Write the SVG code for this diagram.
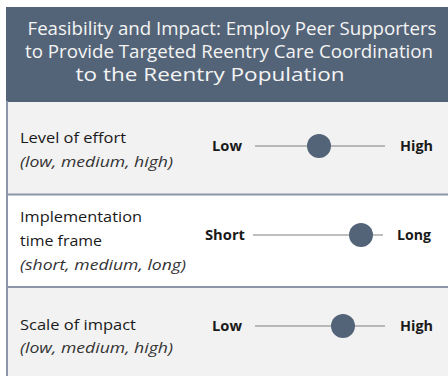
<svg xmlns="http://www.w3.org/2000/svg" width="448" height="376" viewBox="0 0 448 376">
<style>
.title{font-family:"Open Sans",Lato,sans-serif;font-size:18.5px;fill:#f4f4f4;text-anchor:middle}
.lab{font-family:"Open Sans",Lato,sans-serif;font-size:14.5px;fill:#1a1a1a}
.sub{font-family:"Open Sans",Lato,sans-serif;font-size:14.5px;font-style:italic;fill:#333}
.end{font-family:"Open Sans",Lato,sans-serif;font-size:13.5px;font-weight:bold;fill:#1a1a1a}
.track{stroke:#7f7f7f;stroke-width:1}
.knob{fill:#546478}
.div{stroke:#8c96a8;stroke-width:2}
</style>
<rect x="0" y="0" width="448" height="376" fill="#ffffff"/>
<g id="header">
<rect x="6" y="7" width="442" height="95" fill="#546478"/>
<text class="title" x="232" y="35" textLength="409" lengthAdjust="spacingAndGlyphs">Feasibility and Impact: Employ Peer Supporters</text>
<text class="title" x="229" y="58" textLength="408" lengthAdjust="spacingAndGlyphs">to Provide Targeted Reentry Care Coordination</text>
<text class="title" x="210" y="81" textLength="269" lengthAdjust="spacingAndGlyphs">to the Reentry Population</text>
</g>
<g id="row-effort">
<rect x="7" y="102" width="441" height="92" fill="#f2f2f2"/>
<text class="lab" x="20" y="143" textLength="106" lengthAdjust="spacingAndGlyphs">Level of effort</text>
<text class="sub" x="20" y="167" textLength="153" lengthAdjust="spacingAndGlyphs">(low, medium, high)</text>
<text class="end" x="212" y="151" textLength="30" lengthAdjust="spacingAndGlyphs">Low</text>
<line class="track" x1="255" y1="146" x2="385" y2="146"/>
<circle class="knob" cx="319" cy="146" r="12"/>
<text class="end" x="400" y="151" textLength="33" lengthAdjust="spacingAndGlyphs">High</text>
</g>
<g id="row-timeframe">
<rect x="7" y="195" width="441" height="91" fill="#ffffff"/>
<text class="lab" x="20" y="222" textLength="122" lengthAdjust="spacingAndGlyphs">Implementation</text>
<text class="lab" x="20" y="246" textLength="82" lengthAdjust="spacingAndGlyphs">time frame</text>
<text class="sub" x="20" y="270" textLength="166" lengthAdjust="spacingAndGlyphs">(short, medium, long)</text>
<text class="end" x="205" y="240" textLength="40" lengthAdjust="spacingAndGlyphs">Short</text>
<line class="track" x1="253" y1="235" x2="383" y2="235"/>
<circle class="knob" cx="361" cy="235" r="12"/>
<text class="end" x="397" y="240" textLength="34" lengthAdjust="spacingAndGlyphs">Long</text>
</g>
<g id="row-impact">
<rect x="7" y="288" width="441" height="88" fill="#f2f2f2"/>
<text class="lab" x="20" y="330" textLength="116" lengthAdjust="spacingAndGlyphs">Scale of impact</text>
<text class="sub" x="20" y="353" textLength="153" lengthAdjust="spacingAndGlyphs">(low, medium, high)</text>
<text class="end" x="212" y="331" textLength="30" lengthAdjust="spacingAndGlyphs">Low</text>
<line class="track" x1="255" y1="326" x2="385" y2="326"/>
<circle class="knob" cx="343" cy="326" r="12"/>
<text class="end" x="400" y="331" textLength="33" lengthAdjust="spacingAndGlyphs">High</text>
</g>
<g id="connectors">
<line class="div" x1="6" y1="194.5" x2="448" y2="194.5"/>
<line class="div" x1="6" y1="287" x2="448" y2="287"/>
<line stroke="#8c96a8" stroke-width="2" x1="7" y1="101" x2="7" y2="376"/>
</g>
</svg>
